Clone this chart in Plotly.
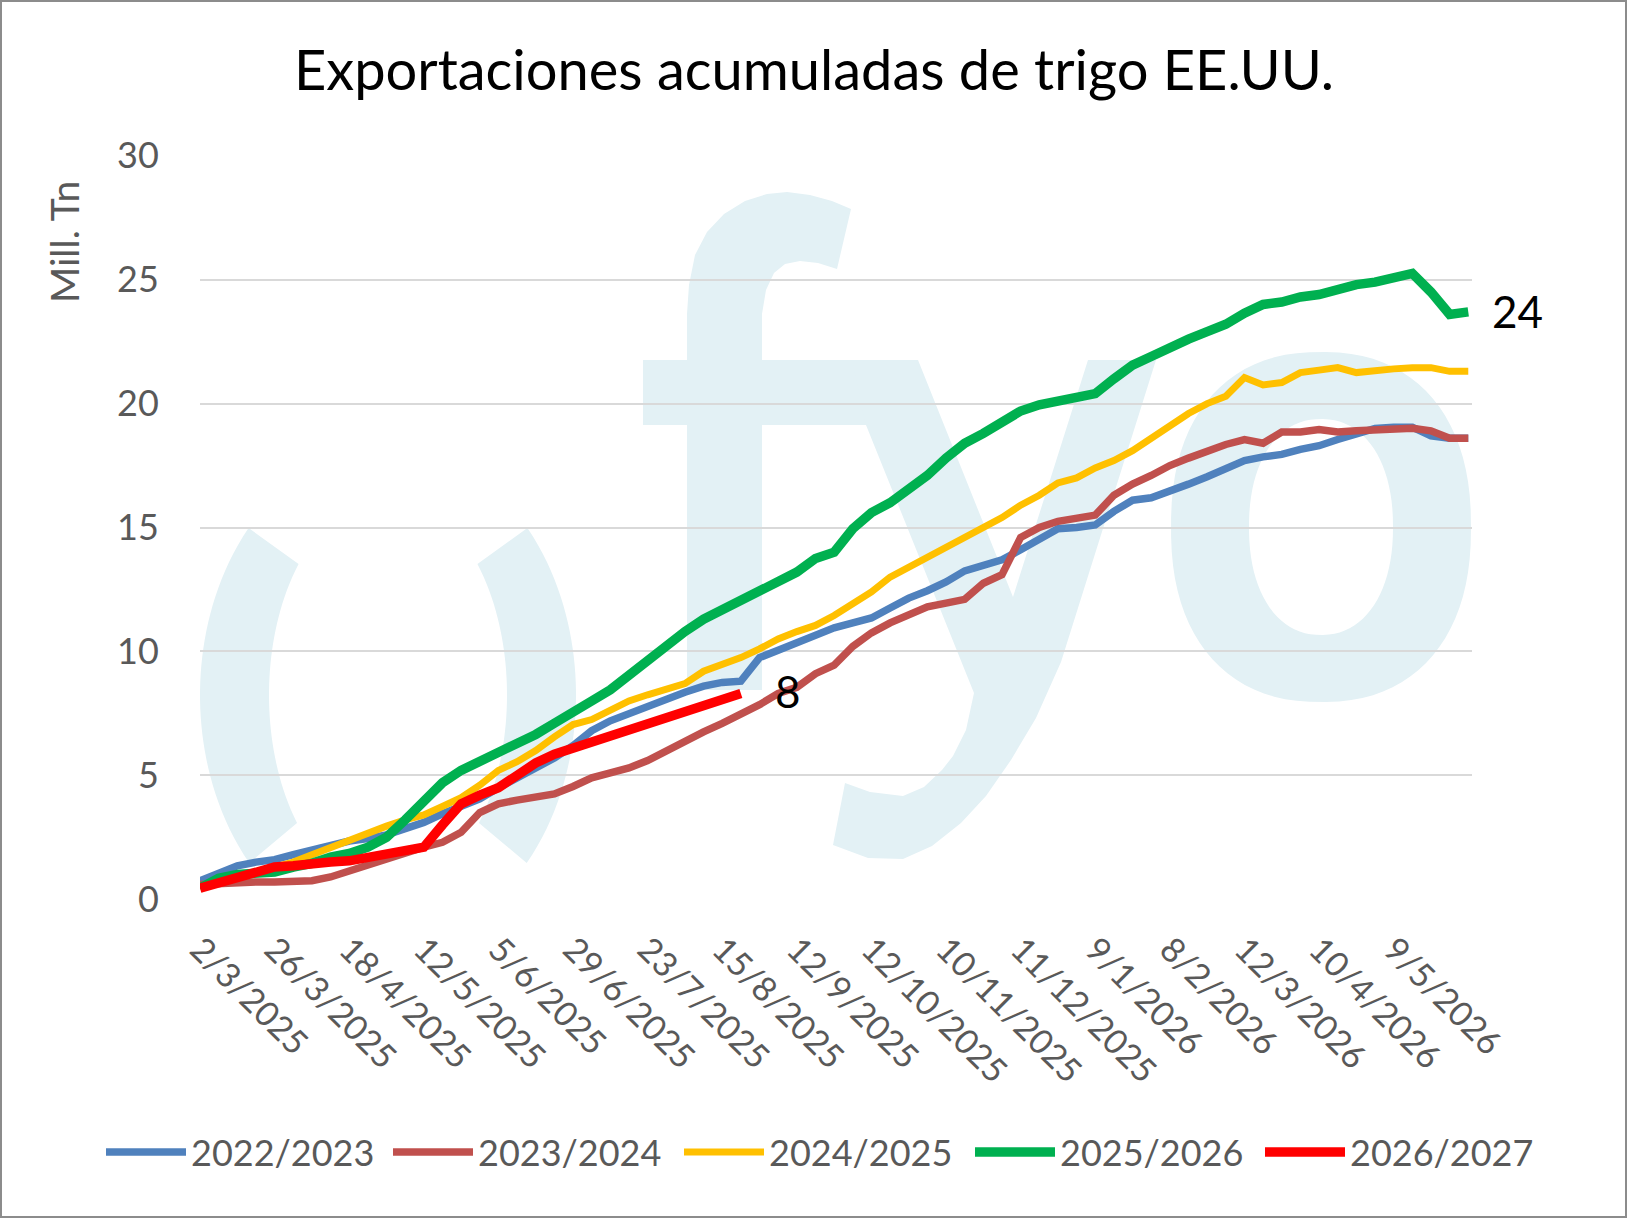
import numpy as np
import plotly.graph_objects as go

# ---------------- data ----------------
TICK_LABELS = ["2/3/2025", "26/3/2025", "18/4/2025", "12/5/2025", "5/6/2025", "29/6/2025",
               "23/7/2025", "15/8/2025", "12/9/2025", "12/10/2025", "10/11/2025", "11/12/2025",
               "9/1/2026", "8/2/2026", "12/3/2026", "10/4/2026", "9/5/2026"]
LABEL_STEP = 4  # one date label every 4 categories

S_2022_23 = [0.75, 1.05, 1.35, 1.5, 1.6, 1.8, 2.0, 2.2, 2.35, 2.45, 2.6, 2.85, 3.1, 3.45, 3.75, 4.05,
             4.5, 4.9, 5.3, 5.7, 6.2, 6.8, 7.2, 7.5, 7.8, 8.1, 8.35, 8.6, 8.75, 8.8, 9.75, 10.05,
             10.35, 10.7, 10.95, 11.15, 11.35, 11.75, 12.15, 12.45, 12.8, 13.25, 13.5, 13.7, 14.1,
             14.55, 14.95, 15.0, 15.1, 15.65, 16.1, 16.2, 16.45, 16.75, 17.05, 17.35, 17.7, 17.85,
             17.95, 18.15, 18.3, 18.55, 18.8, 19.0, 19.05, 19.05, 18.7, 18.6, 18.6]
S_2023_24 = [0.6, 0.65, 0.68, 0.7, 0.7, 0.72, 0.75, 0.9, 1.15, 1.4, 1.6, 1.85, 2.1, 2.3, 2.7, 3.5,
             3.85, 4.0, 4.1, 4.25, 4.55, 4.9, 5.1, 5.3, 5.6, 6.0, 6.4, 6.75, 7.1, 7.45, 7.85, 8.3,
             8.55, 9.1, 9.45, 10.2, 10.75, 11.15, 11.45, 11.8, 11.95, 12.1, 12.75, 13.1, 14.6,
             15.0, 15.25, 15.35, 15.5, 16.3, 16.75, 17.1, 17.5, 17.8, 18.1, 18.35, 18.55, 18.4,
             18.85, 18.85, 18.95, 18.85, 18.9, 18.95, 18.95, 19.0, 18.9, 18.6, 18.6]
S_2024_25 = [0.5, 0.7, 0.9, 1.1, 1.3, 1.5, 1.8, 2.1, 2.35, 2.65, 2.95, 3.2, 3.4, 3.75, 4.1, 4.6,
             5.2, 5.55, 6.0, 6.55, 7.05, 7.25, 7.65, 8.0, 8.25, 8.45, 8.7, 9.2, 9.45, 9.75, 10.1,
             10.5, 10.8, 11.05, 11.45, 11.95, 12.4, 13.0, 13.4, 13.8, 14.2, 14.65, 15.0, 15.4,
             15.9, 16.3, 16.8, 17.0, 17.4, 17.7, 18.1, 18.6, 19.1, 19.6, 20.0, 20.3, 21.05, 20.75,
             20.85, 21.25, 21.35, 21.45, 21.25, 21.35, 21.4, 21.45, 21.45, 21.3, 21.3]
S_2025_26 = [0.45, 0.85, 1.0, 1.05, 1.1, 1.3, 1.45, 1.7, 1.85, 2.1, 2.5, 3.2, 4.0, 4.7, 5.2, 5.55,
             6.0, 6.35, 6.65, 7.1, 7.5, 8.0, 8.45, 9.05, 9.6, 10.15, 10.8, 11.3, 11.7, 12.1, 12.5,
             12.9, 13.2, 13.75, 14.0, 14.95, 15.6, 16.0, 16.55, 17.1, 17.8, 18.4, 18.8, 19.25,
             19.7, 19.95, 20.1, 20.25, 20.4, 21.0, 21.55, 21.9, 22.3, 22.6, 22.9, 23.2, 23.65,
             24.0, 24.1, 24.3, 24.4, 24.6, 24.8, 24.9, 25.05, 25.25, 24.5, 23.6, 23.7]
S_2026_27 = [0.45, 0.65, 0.85, 1.1, 1.3, 1.35, 1.45, 1.5, 1.55, 1.7, 1.85, 2.0, 2.1, 3.0, 3.85,
             4.2, 4.5, 5.0, 5.5, 5.85, 6.1, 6.3, 6.55, 6.8, 7.05, 7.3, 7.5, 7.75, 8.0, 8.3]

SERIES = [("2022/2023", S_2022_23, "#4F81BD", 7.5),
          ("2023/2024", S_2023_24, "#C0504D", 7.5),
          ("2024/2025", S_2024_25, "#FFC000", 7),
          ("2025/2026", S_2025_26, "#00B050", 9.5),
          ("2026/2027", S_2026_27, "#FF0000", 9.5)]

TITLE = "Exportaciones acumuladas de trigo EE.UU."
Y_TITLE = "Mill. Tn"

# ---------------- layout geometry (pixels) ----------------
W, H = 1628, 1219
L, R, T, B = 200, 156, 155, 319
PW, PH = W - L - R, H - T - B
LEGEND_X = [111, 398, 689, 980, 1270]   # left end of each legend line (px)
LEGEND_Y = 1152


def px(X):
    return (X - L) / PW


def py(Y):
    return (H - B - Y) / PH


def path(points, close=True):
    s = "M " + " L ".join(f"{px(x):.5f},{py(y):.5f}" for x, y in points)
    return s + (" Z" if close else "")


def arc(cx, cy, rx, ry, y_from, y_to, side, n=40):
    ys = np.linspace(y_from, y_to, n)
    xs = cx + side * rx * np.sqrt(np.clip(1 - ((ys - cy) / ry) ** 2, 0, 1))
    return list(zip(xs, ys))


WM = "#E3F1F5"
wm_paths = []
# "("
outer = arc(390, 695, 190, 250, 528, 863, -1)
inner = arc(390, 695, 121, 200, 823, 564, -1)
wm_paths.append(path(outer + inner))
# ")"
wm_paths.append(path([(776 - x, y) for x, y in outer + inner]))
# "f"
f_pts = [(687, 690), (687, 425), (643, 425), (643, 360), (687, 360), (687, 314), (689, 285),
         (695, 255), (707, 232), (724, 214), (745, 201), (767, 194), (787, 192), (810, 195),
         (832, 201), (851, 209), (837, 269), (818, 263), (800, 261), (785, 264), (774, 273),
         (766, 290), (762, 314), (762, 360), (918, 360), (918, 425), (762, 425), (762, 690)]
wm_paths.append(path(f_pts))
# "y"
y_pts = [(852, 360), (918, 360), (1013, 597), (1088, 360), (1156, 360), (1061, 662),
         (1036, 718), (1011, 760), (986, 796), (961, 823), (932, 846), (903, 859), (868, 858),
         (833, 845), (845, 783), (870, 792), (903, 796), (924, 787), (942, 770), (953, 756),
         (966, 730), (974, 693), (866, 425)]
wm_paths.append(path(y_pts))
# "o"
th = np.linspace(0, 2 * np.pi, 90)


def sellipse(cx, cy, rx, ry, e, rev=False):
    c, s = np.cos(th), np.sin(th)
    xs = cx + rx * np.sign(c) * np.abs(c) ** (2 / e)
    ys = cy + ry * np.sign(s) * np.abs(s) ** (2 / e)
    pts = list(zip(xs, ys))
    return pts[::-1] if rev else pts


o_d = path(sellipse(1321, 527, 150, 175, 2.3)) + " " + path(sellipse(1321, 527, 72, 108, 2.2, True))
wm_paths.append(o_d)

shapes = [dict(type="path", path=d, xref="paper", yref="paper", layer="below",
               fillcolor=WM, line=dict(width=0)) for d in wm_paths]
# outer border of the chart
shapes.append(dict(type="rect", xref="paper", yref="paper", x0=px(1), x1=px(W - 2),
                   y0=py(H - 2), y1=py(1), line=dict(color="#8C8C8C", width=2),
                   fillcolor="rgba(0,0,0,0)", layer="above"))

fig = go.Figure()
legend_layouts = {}
for k, (name, vals, color, width) in enumerate(SERIES):
    lg = "legend" if k == 0 else f"legend{k + 1}"
    fig.add_trace(go.Scatter(x=list(range(len(vals))), y=vals, mode="lines", name=name,
                             line=dict(color=color, width=width, shape="linear"),
                             hoverinfo="skip", legend=lg))
    legend_layouts[lg] = dict(orientation="h", xref="container", yref="container",
                              x=(LEGEND_X[k] - 10) / W, y=1 - LEGEND_Y / H,
                              xanchor="left", yanchor="middle",
                              font=dict(family="Lato", size=36, color="#595959"),
                              itemwidth=80, bgcolor="rgba(0,0,0,0)", borderwidth=0)

n_cat = len(S_2025_26)
tickvals = [i * LABEL_STEP for i in range(len(TICK_LABELS))]

annotations = [
    dict(text=Y_TITLE, xref="paper", yref="paper", x=px(64), y=py(242), textangle=-90,
         showarrow=False, font=dict(family="Lato", size=39, color="#595959"),
         xanchor="center", yanchor="middle"),
    dict(text=f"{round(S_2025_26[-1])}", xref="x", yref="y", x=len(S_2025_26) - 1,
         y=S_2025_26[-1], xanchor="left", yanchor="middle", xshift=22, yshift=1,
         showarrow=False, font=dict(family="Lato", size=44, color="#000000")),
    dict(text=f"{round(S_2026_27[-1])}", xref="x", yref="y", x=len(S_2026_27) - 1,
         y=S_2026_27[-1], xanchor="left", yanchor="middle", xshift=32, yshift=3,
         showarrow=False, font=dict(family="Lato", size=44, color="#000000")),
]

fig.update_layout(
    width=W, height=H,
    margin=dict(l=L, r=R, t=T, b=B, pad=0),
    paper_bgcolor="white", plot_bgcolor="white",
    title=dict(text=TITLE, x=0.5, xref="container", xanchor="center",
               y=1 - 70 / H, yref="container", yanchor="middle",
               font=dict(family="Lato", size=56, color="#000000")),
    xaxis=dict(range=[0, n_cat - 0.8], tickmode="array", tickvals=tickvals, ticktext=TICK_LABELS,
               tickangle=45, showgrid=False, zeroline=False, showline=False,
               tickfont=dict(family="Lato", size=34, color="#595959"),
               ticks="outside", ticklen=15, tickcolor="rgba(0,0,0,0)"),
    yaxis=dict(range=[-0.03, 30.03], dtick=5, tick0=0, showgrid=True, gridcolor="#D9D9D9",
               gridwidth=2, zeroline=False, showline=False,
               tickfont=dict(family="Lato", size=36, color="#595959"),
               ticks="outside", ticklen=33, tickcolor="rgba(0,0,0,0)"),
    shapes=shapes,
    annotations=annotations,
    showlegend=True,
    **legend_layouts,
)

fig.write_html("out.html", config={"displayModeBar": False},
               post_script="document.body.style.margin='0px';document.body.style.overflow='hidden';")
